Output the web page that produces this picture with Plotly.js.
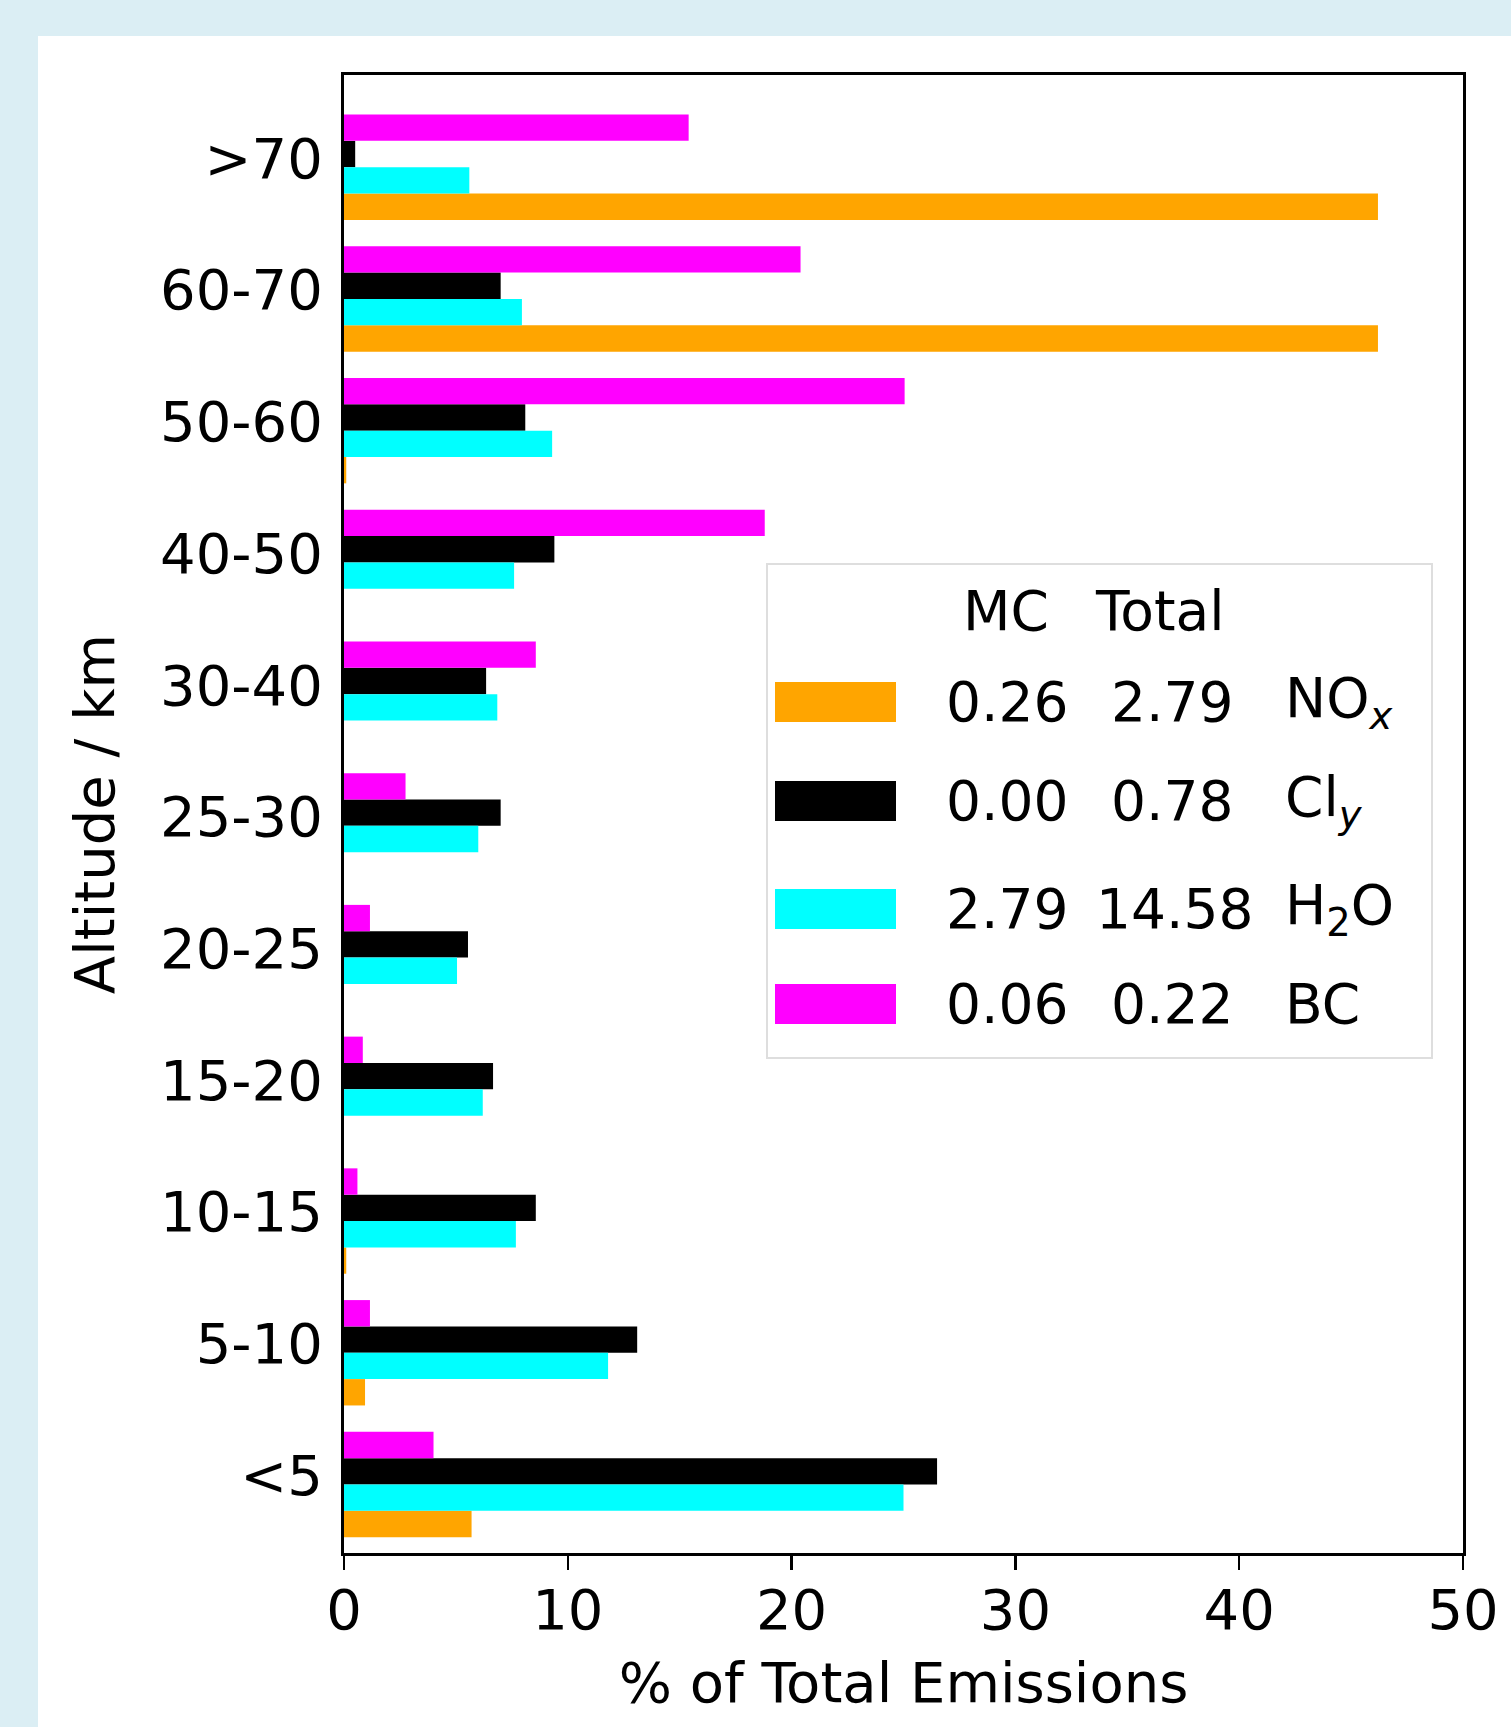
<!DOCTYPE html>
<html>
<head>
<meta charset="utf-8">
<script src="https://cdn.plot.ly/plotly-3.0.1.min.js"></script>
<style>html,body{margin:0;padding:0;background:#dbeef4;}#chart{width:1511px;height:1727px;}</style>
</head>
<body>
<div id="chart"></div>
<script>
// Categories bottom (index 0) to top
const altitudes = ["<5", "5-10", "10-15", "15-20", "20-25", "25-30", "30-40", "40-50", "50-60", "60-70", ">70"];
// % of total emissions per altitude band
const nox = [5.7, 0.94, 0.1, 0, 0, 0, 0, 0, 0.1, 46.2, 46.2];
const cly = [26.5, 13.1, 8.57, 6.66, 5.54, 7.0, 6.35, 9.4, 8.1, 7.0, 0.5];
const h2o = [25.0, 11.8, 7.68, 6.2, 5.05, 6.0, 6.85, 7.6, 9.3, 7.95, 5.6];
const bc  = [4.0, 1.16, 0.6, 0.84, 1.16, 2.75, 8.57, 18.8, 25.05, 20.4, 15.4];
// legend table
const speciesNames = ["NO<sub><i>x</i></sub>", "Cl<sub><i>y</i></sub>", "H<sub>2</sub>O", "BC"];
const legendHeader = ["MC", "Total"];
const mcValues = ["0.26", "0.00", "2.79", "0.06"];
const totalValues = ["2.79", "0.78", "14.58", "0.22"];
const xTicks = [0, 10, 20, 30, 40, 50];

const colors = ["#FFA500", "#000000", "#00FFFF", "#FF00FF"];
const series = [nox, cly, h2o, bc];
const W = 0.2, SHIFT = -0.07;
// offsets: NOx bottom, H2O, Cly, BC top
const offs = [-0.4, 0.0, -0.2, 0.2].map(v => v + SHIFT);
const yIdx = altitudes.map((_, i) => i);

const traces = series.map((vals, k) => ({
  type: "bar", orientation: "h",
  x: vals, y: yIdx,
  width: W, offset: offs[k],
  marker: {color: colors[k], line: {width: 0}},
  name: speciesNames[k], showlegend: false, hoverinfo: "x+name"
}));

// plot area in px
const L = 344, R = 1463, T = 75, B = 1553, PW = R - L, PH = B - T;
const px = x => (x - L) / PW;
const py = y => (B - y) / PH;

const shapes = [{
  type: "rect", xref: "paper", yref: "paper", layer: "below",
  x0: px(38), x1: px(1515), y0: py(1730), y1: py(36),
  fillcolor: "#ffffff", line: {width: 0}
}, {
  type: "rect", xref: "paper", yref: "paper",
  x0: px(767), x1: px(1432), y0: py(1058), y1: py(564),
  fillcolor: "rgba(255,255,255,0.8)", line: {color: "#dedede", width: 2}
}];
const annotations = [{
  xref: "paper", yref: "paper", x: px(961), y: py(611), xanchor: "left", yanchor: "middle",
  text: legendHeader[0], showarrow: false, font: {size: 55, color: "#000"}
}, {
  xref: "paper", yref: "paper", x: px(1093), y: py(611), xanchor: "left", yanchor: "middle",
  text: legendHeader[1], showarrow: false, font: {size: 55, color: "#000"}
}];
const rowsY = [702, 801, 909, 1004];
for (let k = 0; k < 4; k++) {
  const yc = rowsY[k];
  shapes.push({
    type: "rect", xref: "paper", yref: "paper",
    x0: px(775), x1: px(896), y0: py(yc + 20), y1: py(yc - 20),
    fillcolor: colors[k], line: {width: 0}
  });
  annotations.push({xref: "paper", yref: "paper", x: px(944), y: py(yc), xanchor: "left", yanchor: "middle",
    text: mcValues[k], showarrow: false, font: {size: 55, color: "#000"}});
  annotations.push({xref: "paper", yref: "paper", x: px(totalValues[k].length > 4 ? 1094 : 1109), y: py(yc), xanchor: "left", yanchor: "middle",
    text: totalValues[k], showarrow: false, font: {size: 55, color: "#000"}});
  annotations.push({xref: "paper", yref: "paper", x: px(1283), y: py(yc), xanchor: "left", yanchor: "middle",
    text: speciesNames[k], showarrow: false, font: {size: 55, color: "#000"}});
}

const layout = {
  width: 1511, height: 1727,
  margin: {l: L, r: 1511 - R, t: T, b: 1727 - B, pad: 0},
  paper_bgcolor: "#dbeef4", plot_bgcolor: "#ffffff",
  font: {family: "DejaVu Sans", size: 56, color: "#000"},
  barmode: "overlay", showlegend: false,
  xaxis: {
    range: [0, 50], tickvals: xTicks, ticktext: xTicks.map(String),
    ticks: "outside", ticklen: 14, tickwidth: 2.5, tickcolor: "#000",
    ticklabelstandoff: -8,
    showline: true, linewidth: 3, linecolor: "#000", mirror: true,
    showgrid: false, zeroline: false,
    title: {text: "% of Total Emissions", font: {size: 56}, standoff: 22},
    automargin: false
  },
  yaxis: {
    range: [-0.59, 10.63], tickvals: yIdx, ticktext: altitudes,
    ticks: "", ticklabelstandoff: 7,
    showline: true, linewidth: 3, linecolor: "#000", mirror: true,
    showgrid: false, zeroline: false,
    title: {text: "Altitude / km", font: {size: 56}, standoff: 28},
    automargin: false
  },
  shapes: shapes, annotations: annotations
};

Plotly.newPlot("chart", traces, layout, {displayModeBar: false, staticPlot: true});
</script>
</body>
</html>
